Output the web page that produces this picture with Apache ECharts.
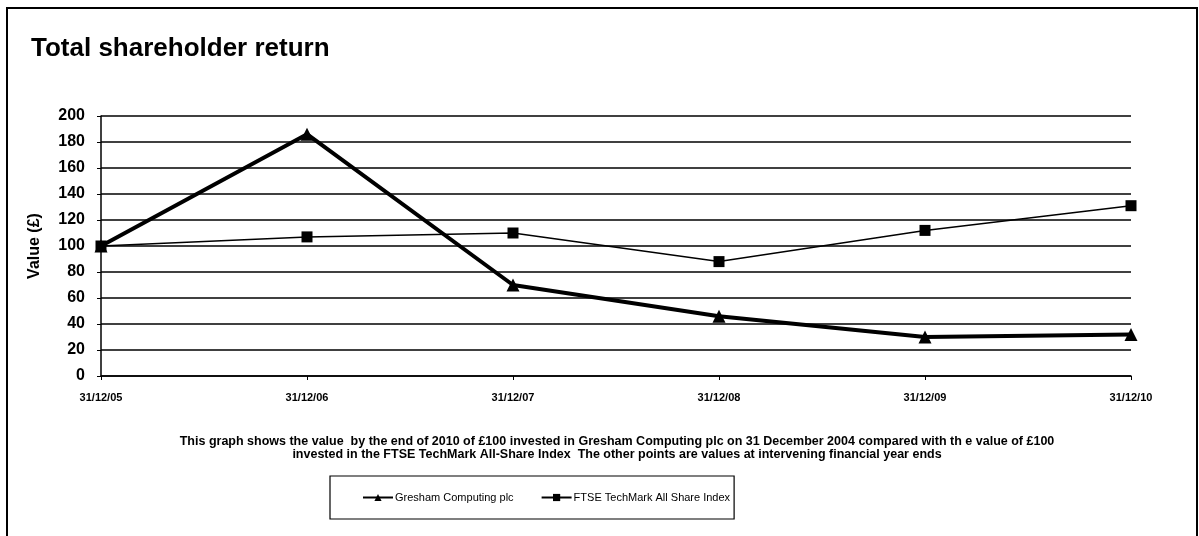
<!DOCTYPE html>
<html><head><meta charset="utf-8">
<script src="https://cdn.jsdelivr.net/npm/echarts@6/dist/echarts.min.js"></script>
<style>html,body{margin:0;padding:0;background:#fff}#c{width:1199px;height:536px}</style>
</head><body><div id="c"></div>
<script>
const categories = ['31/12/05','31/12/06','31/12/07','31/12/08','31/12/09','31/12/10'];
const gresham = [100, 186, 70, 46, 30, 32];
const ftse = [100, 107, 110, 88, 112, 131];
const seriesNames = ['Gresham Computing plc', 'FTSE TechMark All Share Index'];
const titleText = 'Total shareholder return';
const yAxisName = 'Value (£)';
const noteLines = [
  'This graph shows the value  by the end of 2010 of £100 invested in Gresham Computing plc on 31 December 2004 compared with th e value of £100',
  'invested in the FTSE TechMark All-Share Index  The other points are values at intervening financial year ends'
];
const FONT = '"Liberation Sans", Arial, sans-serif';
const chart = echarts.init(document.getElementById('c'));
chart.setOption({
  backgroundColor: '#fff',
  animation: false,
  title: {
    text: titleText, left: 26, top: 31,
    textStyle: {fontFamily: FONT, fontSize: 26, fontWeight: 'bold', color: '#000'}
  },
  grid: {left: 101, right: 68, top: 116, bottom: 160, containLabel: false},
  xAxis: {
    type: 'category', data: categories, boundaryGap: false,
    axisLine: {lineStyle: {color: '#000', width: 1.5}},
    axisTick: {show: true, length: 4, lineStyle: {color: '#000'}},
    axisLabel: {fontFamily: FONT, fontSize: 11, fontWeight: 'bold', color: '#000', margin: 16}
  },
  yAxis: {
    type: 'value', min: 0, max: 200, interval: 20,
    name: yAxisName, nameLocation: 'middle', nameGap: 58,
    nameTextStyle: {fontFamily: FONT, fontSize: 16, fontWeight: 'bold', color: '#000'},
    axisLine: {show: true, lineStyle: {color: '#000', width: 1.5}},
    axisTick: {show: true, length: 4, lineStyle: {color: '#000'}},
    axisLabel: {fontFamily: FONT, fontSize: 16, fontWeight: 'bold', color: '#000', margin: 16},
    splitLine: {show: true, lineStyle: {color: '#000', width: 1.5}}
  },
  legend: {
    data: seriesNames, left: 330, top: 476,
    padding: [16, 4, 16, 32], itemGap: 27, itemWidth: 30, itemHeight: 9,
    borderColor: '#000', borderWidth: 1.2,
    textStyle: {fontFamily: FONT, fontSize: 11, color: '#000', padding: [0, 0, 0, -3]}
  },
  graphic: [
    {type: 'rect', shape: {x: 7, y: 8, width: 1190, height: 540}, style: {fill: 'none', stroke: '#000', lineWidth: 2}, silent: true},
    {type: 'text', x: 617, y: 442, style: {text: noteLines[0], fontFamily: FONT, fontSize: 12.5, fontWeight: 'bold', fill: '#000', align: 'center', verticalAlign: 'middle'}},
    {type: 'text', x: 617, y: 455, style: {text: noteLines[1], fontFamily: FONT, fontSize: 12.5, fontWeight: 'bold', fill: '#000', align: 'center', verticalAlign: 'middle'}}
  ],
  series: [
    {name: seriesNames[0], type: 'line', data: gresham, symbol: 'triangle', symbolSize: 13,
     lineStyle: {color: '#000', width: 4}, itemStyle: {color: '#000'}, z: 3},
    {name: seriesNames[1], type: 'line', data: ftse, symbol: 'rect', symbolSize: 11,
     lineStyle: {color: '#000', width: 1.5}, itemStyle: {color: '#000'}, z: 4}
  ]
});
</script></body></html>
